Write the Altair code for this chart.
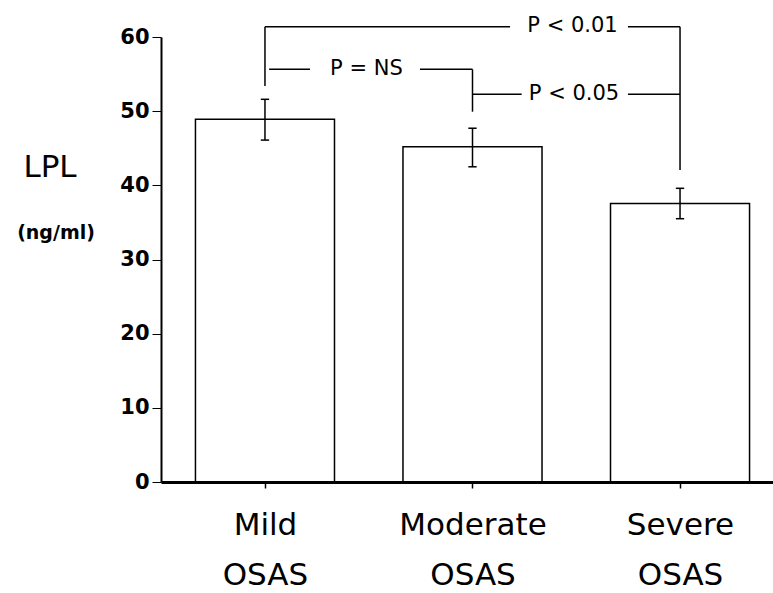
import json
import altair as alt
import pandas as pd

# ---- data ----
groups = ["Mild", "Moderate", "Severe"]
group_suffix = "OSAS"
means = [48.9, 45.2, 37.55]
upper = [51.6, 47.7, 39.6]
lower = [46.1, 42.5, 35.5]
y_ticks = [0, 10, 20, 30, 40, 50, 60]

# significance bracket segments (x in group-index units, y in ng/ml)
seg_x1 = [0, 0, 1.749, 2, 0.02, 0.747, 1, 1, 1.749]
seg_x2 = [0, 1.181, 2, 2, 0.217, 1, 1, 1.237, 2]
seg_y1 = [53.39, 61.39, 61.39, 61.39, 55.64, 55.64, 55.64, 52.27, 52.27]
seg_y2 = [61.39, 61.39, 61.39, 42.07, 55.64, 55.64, 49.93, 52.27, 52.27]
p_labels = ["P < 0.01", "P = NS", "P < 0.05"]
p_x = [1.482, 0.489, 1.489]
p_y = [61.45, 55.7, 52.33]

# y-axis title pieces
ytitle_main = ["LPL"]
ytitle_main_y = [42.4]
ytitle_unit = ["(ng/ml)"]
ytitle_unit_y = [33.6]

HALF = 0.335   # half bar width (index units)
CAP = 0.02     # half cap width

df = pd.DataFrame({
    "group": groups,
    "idx": list(range(len(groups))),
    "mean": means,
    "upper": upper,
    "lower": lower,
})
seg_df = pd.DataFrame({"x1": seg_x1, "x2": seg_x2, "y1": seg_y1, "y2": seg_y2})
p_df = pd.DataFrame({"label": p_labels, "x": p_x, "y": p_y})
yt1_df = pd.DataFrame({"label": ytitle_main, "y": ytitle_main_y})
yt2_df = pd.DataFrame({"label": ytitle_unit, "y": ytitle_unit_y})

label_arr = json.dumps([[g, group_suffix] for g in groups])

xs = alt.Scale(domain=[-0.501, 2.448], nice=False, zero=False)
ys = alt.Scale(domain=[0, 60], nice=False)

xaxis = alt.Axis(
    values=list(range(len(groups))),
    labelExpr=f"{label_arr}[datum.value]",
    title=None, grid=False,
    domainColor="black", domainWidth=3,
    tickColor="black", tickSize=6, tickWidth=1.5,
    labelFont="DejaVu Sans", labelFontSize=31, labelColor="black",
    labelBaseline="top", labelPadding=22, labelLineHeight=50,
    zindex=1,
)
yaxis = alt.Axis(
    values=y_ticks, title=None, grid=False,
    domainColor="black", domainWidth=2,
    tickColor="black", tickSize=9, tickWidth=1,
    labelFont="DejaVu Sans", labelFontSize=21, labelFontWeight="bold",
    labelColor="black", labelPadding=3,
    zindex=1,
)

base = alt.Chart(df)

bars = base.transform_calculate(
    x0=f"datum.idx - {HALF}", x1=f"datum.idx + {HALF}"
).mark_bar(fill="white", stroke="black", strokeWidth=1.5).encode(
    x=alt.X("x0:Q", scale=xs, axis=xaxis),
    x2="x1:Q",
    y=alt.Y("mean:Q", scale=ys, axis=yaxis),
    y2=alt.datum(0),
)

whisk = base.mark_rule(color="black", strokeWidth=1.5).encode(
    x=alt.X("idx:Q", scale=xs),
    y=alt.Y("lower:Q", scale=ys),
    y2="upper:Q",
)
caps_up = base.transform_calculate(
    cl=f"datum.idx - {CAP}", cr=f"datum.idx + {CAP}"
).mark_rule(color="black", strokeWidth=1.5).encode(
    x=alt.X("cl:Q", scale=xs), x2="cr:Q", y=alt.Y("upper:Q", scale=ys)
)
caps_lo = base.transform_calculate(
    cl=f"datum.idx - {CAP}", cr=f"datum.idx + {CAP}"
).mark_rule(color="black", strokeWidth=1.5).encode(
    x=alt.X("cl:Q", scale=xs), x2="cr:Q", y=alt.Y("lower:Q", scale=ys)
)

segs = alt.Chart(seg_df).mark_rule(color="black", strokeWidth=1.5).encode(
    x=alt.X("x1:Q", scale=xs), x2="x2:Q",
    y=alt.Y("y1:Q", scale=ys), y2="y2:Q",
)
ptext = alt.Chart(p_df).mark_text(
    font="DejaVu Sans", fontSize=21, color="black",
    align="center", baseline="middle",
).encode(
    x=alt.X("x:Q", scale=xs), y=alt.Y("y:Q", scale=ys), text="label:N"
)

yt1 = alt.Chart(yt1_df).mark_text(
    font="DejaVu Sans", fontSize=31, color="black", align="center", baseline="middle",
).encode(x=alt.value(-111), y=alt.Y("y:Q", scale=ys), text="label:N")
yt2 = alt.Chart(yt2_df).mark_text(
    font="DejaVu Sans", fontSize=19, fontWeight="bold", color="black",
    align="center", baseline="middle",
).encode(x=alt.value(-105), y=alt.Y("y:Q", scale=ys), text="label:N")

chart = alt.layer(bars, whisk, caps_up, caps_lo, segs, ptext, yt1, yt2).properties(
    width=612, height=445,
    autosize=alt.AutoSizeParams(type="none"),
    padding={"left": 161, "top": 37, "right": 0, "bottom": 111},
    background="white",
).configure_view(stroke=None)

chart.save("out.html", embed_options={"renderer": "svg", "actions": False})
